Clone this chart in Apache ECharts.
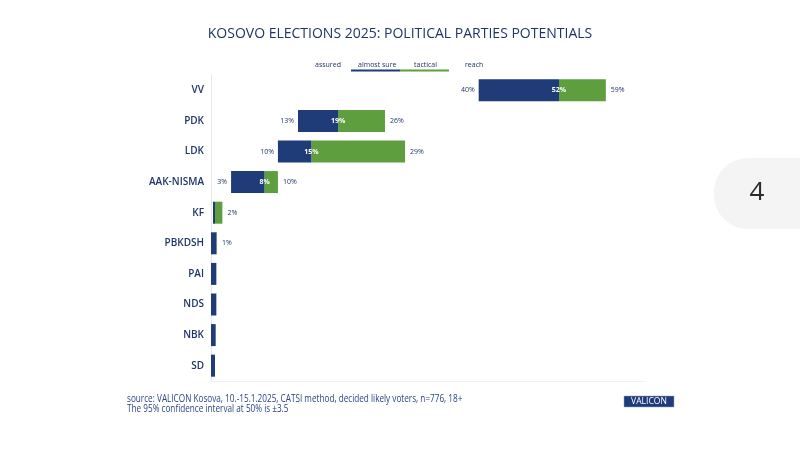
<!DOCTYPE html>
<html>
<head>
    <meta charset="utf-8" />
    <title>Kosovo elections 2025</title>
    <script type="text/javascript" src="https://cdn.jsdelivr.net/npm/echarts@6/dist/echarts.min.js"></script>
    <style>
        html, body { margin: 0; padding: 0; background: #fff; }
        #main { width: 800px; height: 461px; }
    </style>
</head>
<body>
    <div id="main"></div>
    <script type="text/javascript">
        // parties, top to bottom
        var parties = ['VV', 'PDK', 'LDK', 'AAK-NISMA', 'KF', 'PBKDSH', 'PAI', 'NDS', 'NBK', 'SD'];
        // cumulative levels in %
        var assured    = [40, 13, 10, 3, 0.3, 0, 0, 0, 0, 0];
        var almostSure = [52, 19, 15, 8, 0.6, 0.8, 0.8, 0.8, 0.7, 0.6];
        var reach      = [59, 26, 29, 10, 1.7, 0.9, 0.8, 0.8, 0.7, 0.6];
        // printed labels ('' = none)
        var assuredLbl = ['40%', '13%', '10%', '3%', '', '', '', '', '', ''];
        var sureLbl    = ['52%', '19%', '15%', '8%', '', '', '', '', '', ''];
        var reachLbl   = ['59%', '26%', '29%', '10%', '2%', '1%', '', '', '', ''];

        var navy = '#1f3b78';
        var green = '#5e9e3f';
        var txt = '#1f3566';
        var font = '"Open Sans", "Liberation Sans", sans-serif';

        var blueLen = [], greenLen = [];
        for (var i = 0; i < parties.length; i++) {
            blueLen.push(+(almostSure[i] - assured[i]).toFixed(2));
            greenLen.push(+(reach[i] - almostSure[i]).toFixed(2));
        }

        var myChart = echarts.init(document.getElementById('main'));
        var option = {
            backgroundColor: '#fff',
            animation: false,
            title: {
                text: 'KOSOVO ELECTIONS 2025: POLITICAL PARTIES POTENTIALS',
                left: 'center',
                top: 22,
                textStyle: { color: txt, fontSize: 14, fontWeight: 'normal', fontFamily: font }
            },
            grid: { left: 211, right: 154, top: 75, bottom: 80 },
            xAxis: {
                type: 'value',
                min: 0,
                max: 65,
                axisLine: { show: true, lineStyle: { color: '#f1f1f1' } },
                axisTick: { show: false },
                axisLabel: { show: false },
                splitLine: { show: false }
            },
            yAxis: {
                type: 'category',
                inverse: true,
                data: parties,
                axisLine: { show: true, lineStyle: { color: '#e6e6e6' } },
                axisTick: { show: false },
                axisLabel: { color: txt, fontSize: 10, fontWeight: 600, margin: 7, fontFamily: font }
            },
            series: [
                {
                    name: 'assured',
                    type: 'bar',
                    stack: 'p',
                    barWidth: 22,
                    data: assured,
                    itemStyle: { color: 'transparent' },
                    label: {
                        show: true, position: 'insideRight', distance: 4,
                        color: txt, fontSize: 7, fontFamily: font,
                        formatter: function (p) { return assuredLbl[p.dataIndex]; }
                    }
                },
                {
                    name: 'almost sure',
                    type: 'bar',
                    stack: 'p',
                    barWidth: 22,
                    data: blueLen,
                    itemStyle: { color: navy },
                    z: 2,
                    label: {
                        show: true, position: ['100%', '50%'], align: 'center', verticalAlign: 'middle',
                        color: '#fff', fontSize: 7, fontWeight: 'bold', fontFamily: font,
                        formatter: function (p) { return sureLbl[p.dataIndex]; }
                    }
                },
                {
                    name: 'tactical',
                    type: 'bar',
                    stack: 'p',
                    barWidth: 22,
                    data: greenLen,
                    itemStyle: { color: green },
                    z: 1,
                    label: {
                        show: true, position: 'right', distance: 5,
                        color: txt, fontSize: 7, fontFamily: font,
                        formatter: function (p) { return reachLbl[p.dataIndex]; }
                    }
                }
            ],
            graphic: [
                // legend
                { type: 'text', left: 315, top: 61, style: { text: 'assured', fill: txt, font: '7px ' + font } },
                { type: 'text', left: 358, top: 61, style: { text: 'almost sure', fill: txt, font: '7px ' + font } },
                { type: 'text', left: 414, top: 61, style: { text: 'tactical', fill: txt, font: '7px ' + font } },
                { type: 'text', left: 465, top: 61, style: { text: 'reach', fill: txt, font: '7px ' + font } },
                { type: 'line', shape: { x1: 351, y1: 70.5, x2: 400, y2: 70.5 }, style: { stroke: navy, lineWidth: 2 } },
                { type: 'line', shape: { x1: 400, y1: 70.5, x2: 449, y2: 70.5 }, style: { stroke: green, lineWidth: 2 } },
                // page number tab
                { type: 'rect', shape: { x: 714, y: 158, width: 120, height: 71, r: 34 }, style: { fill: '#f4f4f4' } },
                { type: 'text', x: 757, y: 193, style: { text: '4', fill: '#2a2a2a', font: '26px "Open Sans", sans-serif', textAlign: 'center', textVerticalAlign: 'middle' } },
                // footer (narrowed to mimic the condensed original font)
                { type: 'text', x: 127, y: 394, scaleX: 0.78, style: { text: 'source: VALICON Kosova, 10.-15.1.2025, CATSI method, decided likely voters, n=776, 18+\nThe 95% confidence interval at 50% is \u00b13.5', fill: '#2a4486', font: '10.5px ' + font, lineHeight: 10 } },
                { type: 'rect', shape: { x: 624, y: 396, width: 50, height: 11 }, style: { fill: navy, stroke: '#8fa0c8', lineWidth: 0.5 } },
                { type: 'text', x: 649, y: 401.5, scaleX: 0.9, style: { text: 'VALICON', fill: '#fff', font: '9.5px ' + font, textAlign: 'center', textVerticalAlign: 'middle' } }
            ]
        };
        option && myChart.setOption(option);
    </script>
</body>
</html>
